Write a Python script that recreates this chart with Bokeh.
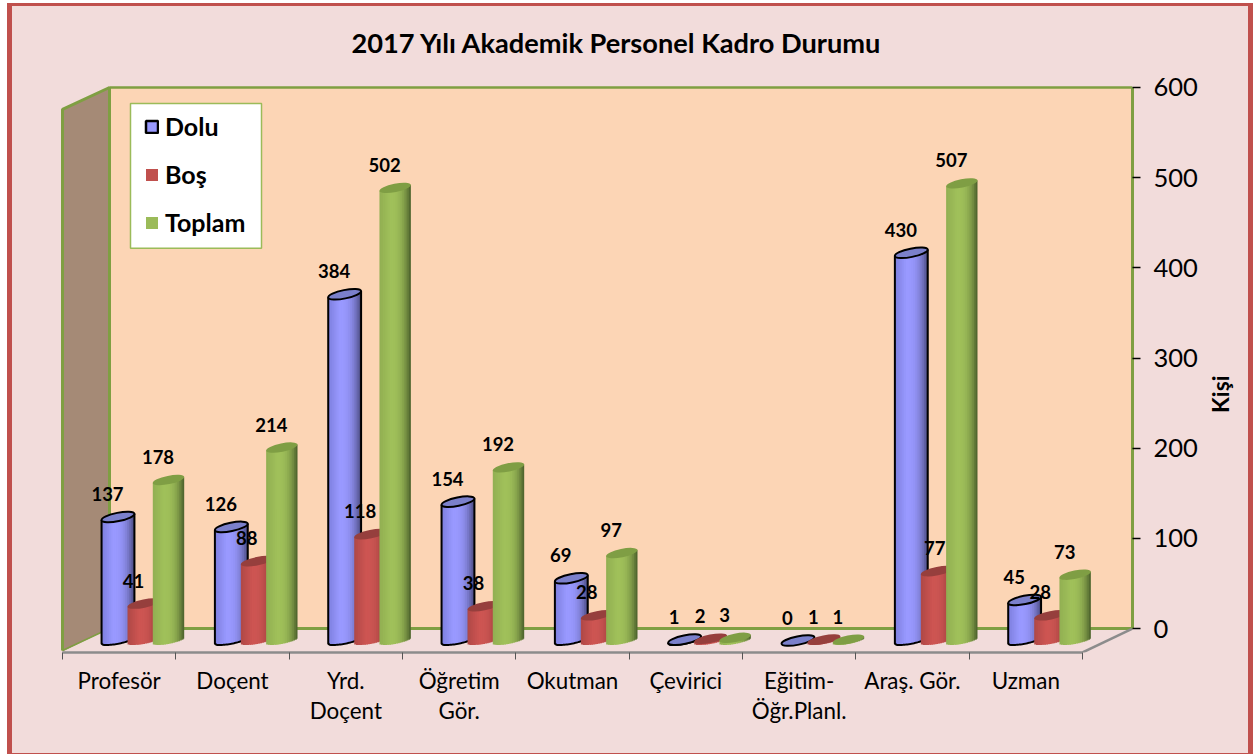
import math
from bokeh.plotting import figure
from bokeh.embed import file_html
from bokeh.resources import INLINE
from bokeh.core.properties import value
from bokeh.models import (FixedTicker, LinearAxis, Legend, LegendItem, Title)

# ---- data ----
categories = ["Profesör", "Doçent", "Yrd.\nDoçent", "Öğretim\nGör.", "Okutman",
              "Çevirici", "Eğitim-\nÖğr.Planl.", "Araş. Gör.", "Uzman"]
dolu = [137, 126, 384, 154, 69, 1, 0, 430, 45]
bos = [41, 88, 118, 38, 28, 2, 1, 77, 28]
toplam = [178, 214, 502, 192, 97, 3, 1, 507, 73]
y_ticks = [0, 100, 200, 300, 400, 500, 600]
title_text = "2017 Yılı Akademik Personel Kadro Durumu"
y_label = "Kişi"

# ---- geometry / style ----
W, H = 1258, 754
FONT = "Lato"
F_L, F_R, F_T, F_B = 58, 1132, 80, 652          # frame edges in page px
CAT0, CAT_PX = 62.0, 113.33
V0, VAL_PX = 628.0, 542.0 / 600.0
BASE_PX = 640.0
A, B, TILT = 17.0, 4.2, math.radians(11.5)
XMAX = math.sqrt((A * math.cos(TILT)) ** 2 + (B * math.sin(TILT)) ** 2)
SLOPE = (A * A - B * B) * math.sin(TILT) * math.cos(TILT) / XMAX ** 2
HALF = 0.75 * A * B / XMAX
N = 18


def X(px):
    return (px - CAT0) / CAT_PX


def Y(px):
    return (V0 - px) / VAL_PX


def mix(c1, c2, t):
    return "#%02x%02x%02x" % tuple(int(round(a + (b - a) * t)) for a, b in zip(c1, c2))


def shade(left, mid, right, t):
    return mix(left, mid, t / 0.35) if t < 0.35 else mix(mid, right, ((t - 0.35) / 0.65) ** 2.6)


page_bg = ("linear-gradient(#f2dcdb,#f2dcdb) 12px 6px / 1236px 747px no-repeat,"
           "linear-gradient(#c0504d,#c0504d) 7px 3px / 1246px 751px no-repeat")
p = figure(width=W, height=H, x_range=(X(F_L), X(F_R)), y_range=(Y(F_B), Y(F_T)),
           y_axis_location="right", output_backend="svg", toolbar_location=None,
           min_border_left=F_L, min_border_right=W - F_R, min_border_top=F_T,
           min_border_bottom=H - F_B, styles={"background": page_bg},
           border_fill_color=None, background_fill_color=None, outline_line_color=None)
p.grid.visible = False

GREEN = "#7f9f42"
# back wall, side wall, floor edge
wx = [109, 1132, 1132, 109]
wy = [86, 86, 628, 628]
p.patch([X(v) for v in wx], [Y(v) for v in wy], fill_color="#fcd5b5", line_color=None)
p.line([X(109), X(1132)], [Y(86), Y(86)], line_color=GREEN, line_width=2.5)
p.line([X(109), X(1132)], [Y(628), Y(628)], line_color=GREEN, line_width=3)
sx = [62, 109, 109, 62]
sy = [108, 86, 628, 651]
p.patch([X(v) for v in sx], [Y(v) for v in sy], fill_color="#a58a76", line_color=None)
p.line([X(v) for v in [62, 62, 109, 109]], [Y(v) for v in [650, 108, 86, 628]], line_color=GREEN, line_width=3)
p.line([X(62), X(109)], [Y(650), Y(628)], line_color=GREEN, line_width=1.5)
p.line([X(1082), X(1132)], [Y(652), Y(628)], line_color="#8c8c8c", line_width=2.5)

# legend box
p.patch([X(v) for v in [130, 261, 261, 130]], [Y(v) for v in [102, 102, 247, 247]], fill_color="#ffffff",
        line_color="#9bbb59", line_width=1.5)

# cylinders
series = [
    (dolu, 55.5, 33.5, ((125, 127, 222), (153, 153, 255), (70, 70, 120)), "#7b80cb", "#000000"),
    (bos, 81.5, 33.5, ((175, 72, 70), (205, 85, 82), (120, 50, 48)), "#963f3d", None),
    (toplam, 106.0, 32.0, ((145, 175, 82), (160, 192, 90), (72, 92, 42)), "#7f9e44", None),
]
for vals, off, dia, (cl, cm, cr), top_col, edge in series:
    ratio = dia / (2 * A)
    l, r, t, b, colors = [], [], [], [], []
    ex, ey, elx, ely = [], [], [], []
    for i, v in enumerate(vals):
        cx = CAT0 + CAT_PX * i + off
        ty = BASE_PX - v * VAL_PX
        xm = XMAX * ratio
        for k in range(N):
            d0 = -xm + 2 * xm * k / N
            d1 = -xm + 2 * xm * (k + 1) / N
            dm = (d0 + d1) / 2
            arc = HALF * math.sqrt(max(0.0, 1 - (dm / xm) ** 2))
            l.append(X(cx + d0))
            r.append(X(cx + min(d1 + 1.0, xm)))
            t.append(Y(ty - SLOPE * dm))
            b.append(Y(BASE_PX - SLOPE * dm + arc))
            colors.append(shade(cl, cm, cr, (k + 0.5) / N))
        ex.append(X(cx))
        ey.append(Y(ty))
        if edge:
            xs, ys = [-xm], [ty + SLOPE * xm]
            for k in range(25):
                dm = -xm + 2 * xm * k / 24
                arc = HALF * math.sqrt(max(0.0, 1 - (dm / xm) ** 2))
                xs.append(dm)
                ys.append(BASE_PX - SLOPE * dm + arc)
            xs.append(xm)
            ys.append(ty - SLOPE * xm)
            elx.append([X(cx + q) for q in xs])
            ely.append([Y(q) for q in ys])
    p.quad(left=l, right=r, top=t, bottom=b, fill_color=colors, line_color=None)
    if edge:
        p.multi_line(elx, ely, line_color=edge, line_width=2)
    p.ellipse(ex, ey, width=dia, height=2 * B, angle=TILT, width_units="screen", height_units="screen",
              fill_color=top_col, line_color=edge, line_width=2 if edge else 0)

# data labels (the "77" label sits further right in the reference)
label_nudge = {(bos[7], 7): 8}
for vals, off, *_ in series:
    xs = [X(CAT0 + CAT_PX * i + off + label_nudge.get((v, i), 0) * (vals is bos)) for i, v in enumerate(vals)]
    ys = [Y(BASE_PX - v * VAL_PX) for v in vals]
    p.text(xs, ys, text=[str(v) for v in vals], text_font=value(FONT), text_font_style="bold",
           text_font_size="18.5px", text_color="#000000", text_align="center", text_baseline="middle",
           x_offset=-10.5, y_offset=-23)

# axes
ax = p.xaxis[0]
ax.ticker = FixedTicker(ticks=[i + 0.5 for i in range(len(categories))],
                        minor_ticks=list(range(len(categories) + 1)))
ax.major_label_overrides = {i + 0.5: c for i, c in enumerate(categories)}
ax.bounds = (0, len(categories))
ax.axis_line_color = "#8c8c8c"
ax.axis_line_width = 2.5
ax.major_tick_line_color = None
ax.minor_tick_line_color = "#555555"
ax.minor_tick_out = 7
ax.minor_tick_in = 0
ax.major_label_standoff = 7
ax.major_label_text_font = FONT
ax.major_label_text_font_size = "22.4px"
ax.major_label_text_color = "#000000"
ax.major_label_text_line_height = 1.13

ay = p.yaxis[0]
ay.ticker = FixedTicker(ticks=y_ticks)
ay.bounds = (0, 600)
ay.axis_line_color = GREEN
ay.axis_line_width = 3
ay.major_tick_line_color = "#000000"
ay.major_tick_line_width = 1.5
ay.major_tick_out = 8
ay.major_tick_in = 0
ay.minor_tick_line_color = None
ay.major_label_standoff = 13
ay.major_label_text_font = FONT
ay.major_label_text_font_size = "25.5px"
ay.major_label_text_color = "#000000"

# second right axis carries only the axis title, placed lower than the scale's centre
title_tick = Y(412)
at = LinearAxis(ticker=FixedTicker(ticks=[title_tick]), major_label_overrides={title_tick: y_label},
                major_label_orientation=math.pi / 2, major_label_standoff=14,
                axis_line_color=None, major_tick_line_color=None, minor_tick_line_color=None,
                major_label_text_font=FONT, major_label_text_font_style="bold",
                major_label_text_font_size="23px", major_label_text_color="#000000")
p.add_layout(at, "right")

# title
p.title = Title(text=title_text, align="left", offset=351 - F_L, standoff=46, text_font=FONT,
                text_font_style="bold", text_font_size="27.2px", text_color="#000000")

# legend
items = []
nan = float("nan")
for name, c, e in [("Dolu", "#9999ff", "#000000"), ("Boş", "#c0504d", None), ("Toplam", "#9bbb59", None)]:
    r = p.quad(left=[nan], right=[nan], top=[nan], bottom=[nan], fill_color=c, line_color=e, line_width=2.5)
    items.append(LegendItem(label=name, renderers=[r], index=0))
leg = Legend(items=items, location=(144 - F_L, F_B - 237), margin=0, padding=0, spacing=18,
             label_height=24, glyph_width=15, glyph_height=15, label_standoff=6,
             label_text_font=FONT, label_text_font_style="bold", label_text_font_size="25px",
             label_text_color="#000000", background_fill_alpha=0, border_line_color=None)
p.add_layout(leg)

open("out.html", "w").write(file_html(p, INLINE))
